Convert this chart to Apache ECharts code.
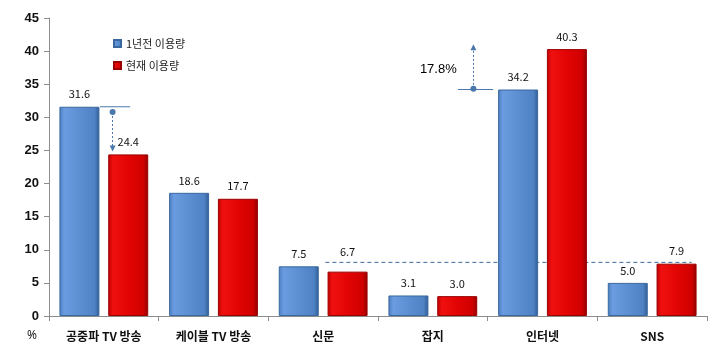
<!DOCTYPE html>
<html><head><meta charset="utf-8">
<script src="https://cdn.jsdelivr.net/npm/echarts@6/dist/echarts.min.js"></script>
<style>html,body{margin:0;padding:0;background:#fff}#c{width:720px;height:356px}</style>
</head><body><div id="c"></div>
<script>
const categories = ['공중파 TV 방송','케이블 TV 방송','신문','잡지','인터넷','SNS'];
const prevUsage = [31.6, 18.6, 7.5, 3.1, 34.2, 5.0];
const currUsage = [24.4, 17.7, 6.7, 3.0, 40.3, 7.9];
const seriesNames = ['1년전 이용량','현재 이용량'];
// annotations in (category-units, value) space
const dropLine = [[0.465, 31.6],[0.74, 31.6]];
const dropArrow = [[0.58, 30.8],[0.58, 25.3]];
const riseLine = [[3.73, 34.2],[4.05, 34.2]];
const riseArrow = [[3.87, 34.3],[3.87, 40.6]];
const riseText = [[3.55, 37.3, '17.8%']];
const refLine = [[2.52, 8.1],[5.86, 8.1]];

const font = '"Noto Sans CJK KR", "Noto Sans", sans-serif';
const blueGrad = {type:'linear',x:0,y:0,x2:1,y2:0,colorStops:[
  {offset:0,color:'#4a7fc0'},{offset:0.12,color:'#6b9be0'},{offset:0.5,color:'#5b8fd2'},{offset:0.88,color:'#4f82c4'},{offset:1,color:'#2f5c94'}]};
const redGrad = {type:'linear',x:0,y:0,x2:1,y2:0,colorStops:[
  {offset:0,color:'#c00000'},{offset:0.12,color:'#f01010'},{offset:0.5,color:'#e20404'},{offset:0.88,color:'#d00000'},{offset:1,color:'#8e0000'}]};

const valLabel = {show:true,position:'top',distance:7,fontSize:11,color:'#111',formatter:p=>p.value.toFixed(1)};
const currData = currUsage.map((v,i)=> i===2 ? {value:v,label:{distance:14}} : v);

const chart = echarts.init(document.getElementById('c'));
chart.setOption({
  animation:false,
  textStyle:{fontFamily:font},
  grid:{left:49,right:13,top:18,bottom:40},
  legend:{
    orient:'vertical',left:108,top:33,itemWidth:7,itemHeight:7,itemGap:11,
    icon:'rect',textStyle:{fontSize:11,color:'#222',fontFamily:font},
    data:seriesNames
  },
  xAxis:[{
    type:'category',data:categories,
    axisLine:{lineStyle:{color:'#8c8c8c'}},
    axisTick:{show:true,length:5,lineStyle:{color:'#8c8c8c'}},
    axisLabel:{fontSize:12,fontWeight:'bold',color:'#111',margin:14,fontFamily:font}
  },{
    type:'value',min:0,max:6,show:false
  }],
  yAxis:{
    type:'value',min:0,max:45,interval:5,
    splitLine:{show:false},
    axisLine:{show:true,lineStyle:{color:'#8c8c8c'}},
    axisTick:{show:true,length:5,lineStyle:{color:'#8c8c8c'}},
    axisLabel:{fontSize:13,fontWeight:'bold',color:'#111',margin:10,fontFamily:'"Liberation Sans", sans-serif'}
  },
  graphic:[{type:'text',left:27,top:330,style:{text:'%',font:'12px "Noto Sans", sans-serif',fill:'#222'}}],
  series:[
    {name:'refline',type:'line',xAxisIndex:1,data:refLine,symbol:'none',z:1,silent:true,
     lineStyle:{color:'#3b6aa0',width:1,type:[4,3]}},
    {name:seriesNames[0],type:'bar',data:prevUsage,barWidth:40,barGap:'22%',z:3,
     itemStyle:{color:blueGrad,borderColor:'#3a689e',borderWidth:1},
     label:valLabel},
    {name:seriesNames[1],type:'bar',data:currData,barWidth:40,z:3,
     itemStyle:{color:redGrad,borderColor:'#9a0000',borderWidth:1},
     label:valLabel},
    {name:'dropLine',type:'line',xAxisIndex:1,data:dropLine,symbol:'none',z:4,silent:true,
     lineStyle:{color:'#4a78ad',width:1.2}},
    {name:'riseLine',type:'line',xAxisIndex:1,data:riseLine,symbol:'none',z:4,silent:true,
     lineStyle:{color:'#4a78ad',width:1.2}},
    {name:'arrows',type:'line',xAxisIndex:1,data:[],z:5,silent:true,
     markLine:{silent:true,symbol:['circle','triangle'],symbolSize:[6,6],label:{show:false},
       lineStyle:{color:'#4a78ad',width:1,type:[2,2]},
       data:[[{coord:dropArrow[0]},{coord:dropArrow[1]}],[{coord:riseArrow[0]},{coord:riseArrow[1]}]]}},
    {name:'riseText',type:'scatter',xAxisIndex:1,data:riseText,symbolSize:0,silent:true,z:6,
     itemStyle:{opacity:1},
     label:{show:true,position:'inside',formatter:p=>p.data[2],fontSize:13,color:'#000',opacity:1,fontFamily:'"Liberation Sans", sans-serif'}}
  ]
});
</script></body></html>
